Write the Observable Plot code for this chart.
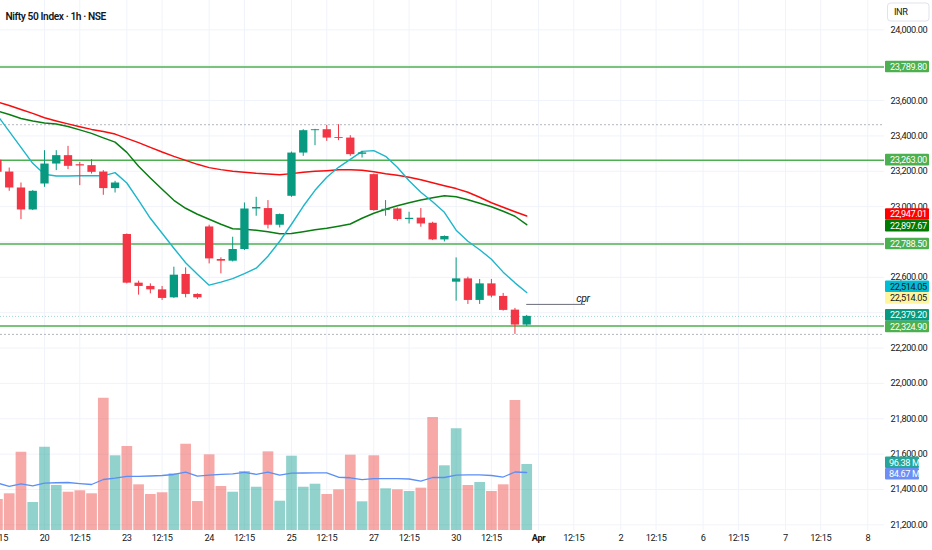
<!DOCTYPE html>
<html><head><meta charset="utf-8">
<script src="https://cdn.jsdelivr.net/npm/d3@7"></script>
<script src="https://cdn.jsdelivr.net/npm/@observablehq/plot@0.6"></script>
<style>
body{margin:0;background:#fff;}
#wrap{position:relative;width:932px;height:550px;overflow:hidden;background:#fff;}
#wrap svg{position:absolute;left:0;top:0;}
#wrap svg text{letter-spacing:-0.4px;}
</style></head><body><div id="wrap"></div>
<script>
const title = "Nifty 50 Index · 1h · NSE";
const currency = "INR";

// hourly candles, first = 19 Mar 12:15
const open = [23262, 23195.7, 23105.4, 22981.1, 23128, 23240.9, 23288.4, 23237, 23231.9, 23195.7, 23102,
  22842.2, 22567.1, 22548.5, 22529.3, 22484.1, 22616.2, 22503.3,
  22885.1, 22701, 22691.4, 22757.4, 22986.7, 22989, 22894.7,
  23058.5, 23303, 23429.6, 23435.2, 23391, 23387.8, 23296,
  23181, 22977.7, 22986.7, 22926.9, 22935, 22906, 22811.7,
  22572.7, 22591.4, 22469.4, 22563.1, 22492, 22414.6, 22330];
const high = [23275, 23218.3, 23133.6, 23090.7, 23316.6, 23316.6, 23340.9, 23250.5, 23265.8, 23203.6, 23143.2,
  22845.6, 22578.4, 22563.1, 22548.5, 22657.5, 22653.5, 22506.7,
  22894.7, 22710.4, 22826.9, 23020.6, 23052.8, 23034.2, 22958.6,
  23308.7, 23435.2, 23437, 23459.5, 23463.4, 23401.3, 23312.6,
  23184.4, 23034.2, 22992.4, 22968.1, 22989, 22911.6, 22834.6,
  22710, 22601, 22588, 22588, 22509, 22424.2, 22384.7];
const low = [23185, 23086.7, 22926.9, 22977.7, 23109.3, 23203.6, 23209.3, 23118.9, 23184.4, 23064.1, 23077.1,
  22563.1, 22499.3, 22506.7, 22469.4, 22480.7, 22484.1, 22475,
  22676.1, 22619.6, 22687, 22751.7, 22945.5, 22873.8, 22879.4,
  23052.8, 23284.4, 23344.8, 23369.1, 23373, 23284.4, 23274.8,
  22973.8, 22945.5, 22917.3, 22902, 22883.4, 22808, 22800.4,
  22465.4, 22446.8, 22446.8, 22484, 22409, 22277.4, 22322.5];
const close = [23194, 23105.4, 22981.1, 23086.7, 23240.9, 23288.4, 23227.9, 23230, 23194, 23102, 23133.6,
  22567.1, 22548.5, 22529.3, 22480.7, 22612.3, 22503.3, 22484.1,
  22704.4, 22691.4, 22757.4, 22986.7, 22995, 22894.7, 22955.1,
  23303, 23429.6, 23435, 23387.8, 23386, 23294, 23304,
  22977.7, 22985, 22926.9, 22934, 22902, 22811.7, 22830.9,
  22591.4, 22469.4, 22563.1, 22493.7, 22413, 22330, 22379.2];
// volume in millions
const volume = [45.3, 53.6, 114.3, 40.9, 121.6, 65.7, 55.9, 58.0, 53.6, 193.2, 109.1,
  122.7, 66.7, 52.6, 55.1, 82.8, 126.0, 42.3,
  110.5, 64.3, 55.9, 86.2, 63.2, 114.9, 42.8,
  108.5, 63.2, 67.6, 52.6, 59.4, 110.0, 41.9,
  109.1, 60.9, 59.4, 57.0, 61.8, 165.0, 94.5,
  148.5, 65.7, 70.1, 57.0, 66.7, 189.8, 96.38];
const volumeMA = [69.4, 64.3, 68.2, 65.3, 69.1, 69.7, 70.1, 68.6, 67.2, 74.5, 76.4,
  78.9, 79.1, 79.6, 80.3, 81.8, 85.4, 79.3,
  81.0, 82.1, 82.7, 85.0, 82.1, 85.4, 81.0,
  83.7, 84.0, 84.1, 84.3, 77.8, 77.0, 74.2,
  75.9, 75.9, 75.9, 75.2, 72.0, 77.4, 77.4,
  81.0, 81.3, 81.3, 80.3, 78.1, 85.4, 84.67];
const emaRed = [23592.2, 23572.4, 23549.8, 23527.3, 23503.0, 23484.9, 23468.0, 23452.2, 23436.9, 23424.5, 23410.3,
  23386.1, 23361.8, 23335.2, 23308.7, 23284.4, 23261.8, 23239.2,
  23220.6, 23209.3, 23199.7, 23194.0, 23188.4, 23184.4, 23181.0,
  23186.7, 23194.0, 23199.7, 23203.6, 23208.1, 23209.3, 23205.3,
  23196.8, 23185.5, 23177.0, 23165.8, 23151.7, 23134.7, 23117.8,
  23102.0, 23081.0, 23052.8, 23021.8, 22996.4, 22971.0, 22947.01];
const emaGreen = [23541.4, 23521.6, 23499.0, 23484.9, 23473.6, 23466.8, 23453.8, 23434.1, 23414.3, 23388.9, 23365.1,
  23307.0, 23227.9, 23161.8, 23098.0, 23035.9, 22990.7, 22956.9,
  22928.6, 22900.4, 22875.0, 22872.1, 22866.5, 22858.0, 22846.7,
  22847.8, 22858.0, 22869.3, 22877.8, 22889.0, 22901.5, 22934.3,
  22962.5, 22985.1, 23004.9, 23021.8, 23037.6, 23050.0, 23061.3,
  23055.7, 23038.8, 23019.1, 22999.3, 22973.8, 22945.6, 22897.67];
const emaCyan = [23515.9, 23425.6, 23335.2, 23245.1, 23182.8, 23173.1, 23173.1, 23174.3, 23174.3, 23174.3, 23192.3,
  23133.6, 23035.9, 22934.2, 22849.5, 22764.8, 22682.9, 22618.0,
  22555.8, 22572.9, 22592.6, 22620.8, 22651.8, 22719.6, 22804.3,
  22900.3, 23002.0, 23092.4, 23165.8, 23222.3, 23267.5, 23312.6,
  23316.6, 23284.4, 23222.3, 23146.0, 23081.0, 23027.4, 22968.1,
  22866.5, 22804.4, 22756.4, 22702.7, 22629.4, 22568.9, 22514.05];

const levels = [23789.80, 23263.00, 22788.50, 22324.90];
const cprLevel = 22447;
const cprFrom = 45, cprTo = 50;
const yellowValue = 22514.05;

const priceTicks = [21200, 21400, 21600, 21800, 22000, 22200, 22400, 22600, 22800, 23000, 23200, 23400, 23600, 23800, 24000];
const xTickIndex = [0, 4, 7, 11, 14, 18, 21, 25, 28, 32, 35, 39, 42, 46, 49, 53, 56, 60, 63, 67, 70, 74];
const xTickLabels = ["12:15", "20", "12:15", "23", "12:15", "24", "12:15", "25", "12:15", "27", "12:15", "30", "12:15", "Apr", "12:15", "2", "12:15", "6", "12:15", "7", "12:15", "8"];

const UP = "#089981", DOWN = "#f23645";
const VUP = "rgba(38,166,154,0.5)", VDOWN = "rgba(239,83,80,0.5)";
const LEVEL = "#4caf50", RED = "#f70d0d", DKGREEN = "#0a7d12", CYAN = "#1cb6ca", VMA = "#5b8ff5";
const FONT = "Roboto, 'Liberation Sans', sans-serif";
const TXT = "#131722";
const FS = 9.2;

const bars = open.map((o, i) => ({
  i, o, h: high[i], l: low[i], c: close[i], up: close[i] >= o,
  v: volume[i], vma: volumeMA[i], r: emaRed[i], g: emaGreen[i], cy: emaCyan[i]
}));
const ticksX = xTickIndex.map((i, j) => ({i, label: xTickLabels[j], bold: xTickLabels[j] === "Apr"}));

const last = bars[bars.length - 1];
const priceLabels = [
  {value: levels[0], bg: LEVEL, fg: "#fff"},
  {value: levels[1], bg: LEVEL, fg: "#fff"},
  {value: last.r, bg: "#ff0000", fg: "#fff"},
  {value: last.g, bg: "#007a00", fg: "#fff"},
  {value: levels[2], bg: LEVEL, fg: "#fff"},
  {value: last.cy, bg: "#00bcd4", fg: TXT},
  {value: yellowValue, bg: "#fff59d", fg: TXT},
  {value: last.c, bg: UP, fg: "#fff"},
  {value: levels[3], bg: LEVEL, fg: "#fff"}
];
const volLabels = [
  {value: last.v, bg: "#26a69a", fg: "#fff"},
  {value: last.vma, bg: "#6c8ff5", fg: "#fff"}
];
// scale labels that sit fully under a value box are not drawn
const axisTicks = priceTicks.filter(t => !priceLabels.some(d => Math.abs(d.value - t) < 20));

function labelMark(items, fmt, w, fs, pad) {
  const h = 11.6;
  return (index, scales, values, dims) => {
    const x0 = dims.width - dims.marginRight + 1;
    const arr = items.map((d, j) => ({...d, j, py: scales.y(d.value)}));
    arr.sort((a, b) => a.py - b.py || a.j - b.j);
    let clusters = arr.map(d => ({items: [d], center: d.py}));
    let changed = true;
    while (changed) {
      changed = false;
      for (let k = 0; k < clusters.length - 1; k++) {
        const a = clusters[k], b = clusters[k + 1];
        if (b.center - b.items.length * h / 2 < a.center + a.items.length * h / 2 - 0.01) {
          const its = a.items.concat(b.items);
          clusters.splice(k, 2, {items: its, center: d3.mean(its, d => d.py)});
          changed = true;
          break;
        }
      }
    }
    for (const c of clusters) c.items.forEach((d, j) => d.ly = c.center - c.items.length * h / 2 + h * (j + 0.5));
    const g = d3.create("svg:g").attr("font-family", FONT).attr("font-size", fs).attr("text-anchor", "start");
    for (const d of arr) {
      g.append("rect").attr("x", x0).attr("y", d.ly - h / 2).attr("width", w).attr("height", h)
        .attr("fill", d.bg).attr("rx", 1);
      g.append("text").attr("x", x0 + pad).attr("y", d.ly).attr("dy", "0.36em").attr("text-anchor", "start")
        .attr("fill", d.fg).text(fmt(d.value));
    }
    return g.node();
  };
}

const W = 932, H = 550, MR = 48, MB = 20;
const xDomain = [0.259, 75.422];
const fmtPrice = d3.format(",.2f");

const pricePlot = Plot.plot({
  width: W, height: H, marginLeft: 0, marginRight: MR, marginTop: 0, marginBottom: MB,
  x: {domain: xDomain, axis: null},
  y: {domain: [21168, 24166], axis: null},
  color: {type: "identity"},
  style: {fontFamily: FONT, background: "transparent", color: TXT},
  marks: [
    Plot.ruleX(xTickIndex, {stroke: "#f0f3fa"}),
    Plot.ruleY(priceTicks, {stroke: "#f0f3fa"}),
    Plot.ruleY([d3.max(high), d3.min(low)], {stroke: "#b2b5be", strokeDasharray: "2,2"}),
    Plot.ruleY([last.c], {stroke: UP, strokeOpacity: 0.4, strokeDasharray: "1,2"}),
    Plot.ruleY(levels, {stroke: LEVEL, strokeWidth: 1.5}),
    Plot.ruleY([cprLevel], {x1: cprFrom, x2: cprTo, stroke: "#6a6d78", strokeWidth: 1}),
    Plot.text(["cpr"], {x: cprTo, y: cprLevel, text: d => d, textAnchor: "end", dx: 4, dy: -6, fontStyle: "italic", fontSize: 10.5, fill: TXT}),
    Plot.line(bars, {x: "i", y: "r", stroke: RED, strokeWidth: 1.5}),
    Plot.line(bars, {x: "i", y: "g", stroke: DKGREEN, strokeWidth: 1.5}),
    Plot.line(bars, {x: "i", y: "cy", stroke: CYAN, strokeWidth: 1.4}),
    Plot.ruleX(bars, {x: "i", y1: "l", y2: "h", stroke: d => d.up ? UP : DOWN, strokeWidth: 1}),
    Plot.ruleX(bars, {x: "i", y1: "o", y2: "c", stroke: d => d.up ? UP : DOWN, strokeWidth: 8.3}),
    Plot.axisY({ticks: axisTicks, anchor: "right", tickSize: 0, tickPadding: 6, tickFormat: fmtPrice, fontSize: FS, label: null, fill: TXT}),
    Plot.text(ticksX, {filter: d => !d.bold, x: "i", text: "label", frameAnchor: "bottom", dy: 10, fontSize: FS, fill: TXT}),
    Plot.text(ticksX, {filter: d => d.bold, x: "i", text: "label", frameAnchor: "bottom", dy: 10, fontSize: FS, fontWeight: "bold", fill: TXT}),
    Plot.text([title], {frameAnchor: "top-left", dx: 5, dy: 12, textAnchor: "start", fontSize: 10.2, fontWeight: 600, fill: TXT}),
    labelMark(priceLabels, fmtPrice, 44, FS, 5)
  ]
});

const volPlot = Plot.plot({
  width: W, height: H, marginLeft: 0, marginRight: MR, marginTop: 0, marginBottom: MB,
  x: {domain: xDomain, axis: null},
  y: {domain: [0, 774], axis: null},
  color: {type: "identity"},
  style: {fontFamily: FONT, background: "transparent"},
  marks: [
    Plot.ruleX(bars, {x: "i", y1: 0, y2: "v", stroke: d => d.up ? VUP : VDOWN, strokeWidth: 10.7}),
    Plot.line(bars, {x: "i", y: "vma", stroke: VMA, strokeWidth: 1.3}),
    labelMark(volLabels, v => v.toFixed(2) + " M", 34, FS, 4)
  ]
});

const wrap = document.getElementById("wrap");
wrap.appendChild(pricePlot);
wrap.appendChild(volPlot);

// currency box in the price scale corner
const svg = d3.select(volPlot);
svg.append("rect").attr("x", W - MR + 3.5).attr("y", 3).attr("width", 41.5).attr("height", 18).attr("rx", 3)
  .attr("fill", "#fff").attr("stroke", "#e0e3eb");
svg.append("text").attr("x", W - MR + 10).attr("y", 12).attr("dy", "0.35em").attr("font-size", FS)
  .attr("text-anchor", "start").attr("font-family", FONT).attr("fill", TXT).text(currency);
</script></body></html>
